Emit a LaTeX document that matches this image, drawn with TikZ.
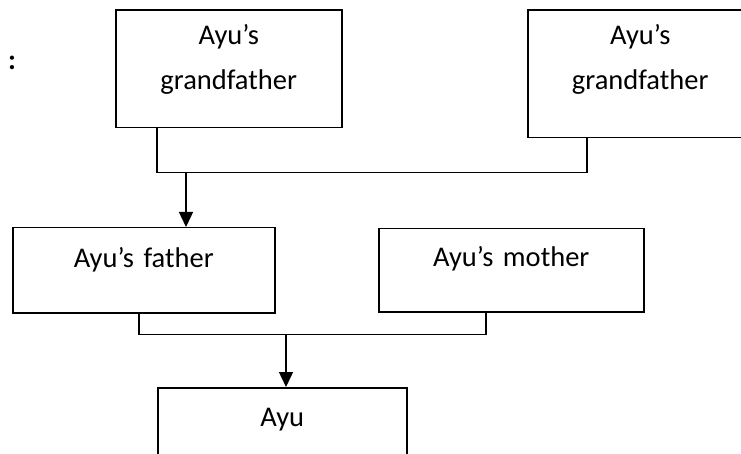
\documentclass[tikz,border=0pt]{standalone}
\usepackage{fontspec}
\setmainfont{Carlito}
\usetikzlibrary{arrows.meta}

\begin{document}
\begin{tikzpicture}[x=1pt, y=1pt,
famblock/.style={draw=black, line width=1.5pt, anchor = north west, align=center,
inner xsep=0pt, inner ysep=0pt, font={\fontsize{28.5}{45}\selectfont}},
famline/.style={line width=1.4pt},
famarrow/.style={famline, -{Triangle[length=15pt, width=14pt]}}]

\useasboundingbox (0,0) rectangle (741,-454);
\clip (0,0) rectangle (741,-454);

\node [anchor=base, font={\fontsize{28.5}{45}\selectfont\bfseries}] (colon) at (12,-70) {:};


% grandparents
\node [famblock, text width=226pt, text height=34.5pt, text depth=83pt] (gfone)
 at (115,-9.5) {Ayu’s\\grandfather};

\node [famblock, text width=225pt, text height=34.5pt, text depth=93pt] (gftwo)
 at (527,-9.5) {Ayu’s\\grandfather};


% parents
\node [famblock, text width=262pt, text height=40pt, text depth=45pt] (father)
 at (12,-227) {Ayu’s father};

\node [famblock, text width=265pt, text height=38pt, text depth=45pt] (mother)
 at (378,-228) {Ayu’s mother};


\node [famblock, text width=249pt, text height=39pt, text depth=80pt] (ayu)
 at (157,-387) {Ayu};


\coordinate (gfone leg) at ([xshift=42]gfone.south west);
\coordinate (gftwo leg) at ([xshift=60]gftwo.south west);
\coordinate (gf bar) at ([xshift=71, yshift=-44]gfone.south west);
\draw [famline] (gfone leg) -- ++(0,-44) -| (gftwo leg);
\draw [famarrow] (gf bar) -- (gf bar |- father.north);

\coordinate (father leg) at ([xshift=127]father.south west);
\coordinate (mother leg) at ([xshift=108]mother.south west);
\coordinate (parent bar) at ([xshift=274, yshift=-21]father.south west);
\draw [famline] (father leg) -- ++(0,-21) -| (mother leg);
\draw [famarrow] (parent bar) -- (parent bar |- ayu.north);

\end{tikzpicture}
\end{document}
